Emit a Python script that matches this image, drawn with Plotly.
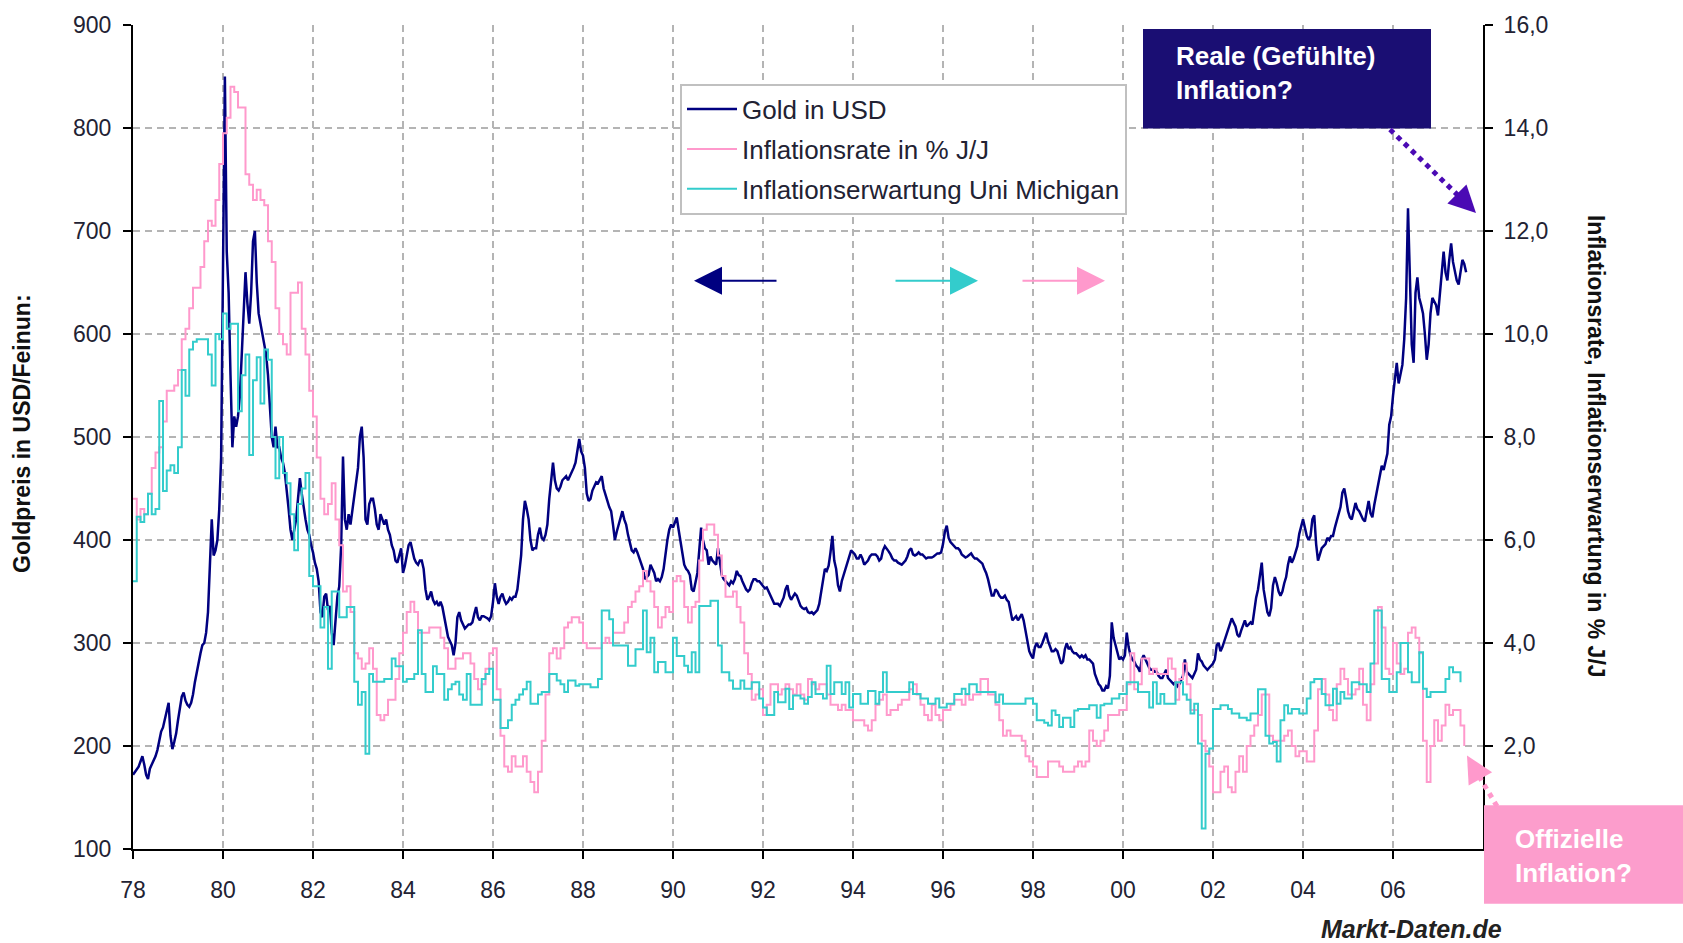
import plotly.graph_objects as go

# ---------------- data ----------------
START_YEAR = 1978

# Gold price in USD/oz, two readings per month (1978-01 .. 2007-08)
gold_usd = [
    # 1978
    172, 175, 178, 180, 185, 190, 182, 172, 168, 178, 182, 186, 190, 196, 206, 214, 218, 226, 232, 242, 210, 197, 204, 212,
    # 1979
    225, 235, 248, 252, 244, 240, 238, 242, 250, 262, 272, 282, 290, 298, 300, 310, 330, 375, 420, 385, 390, 400, 430, 480,
    # 1980
    640, 850, 680, 640, 560, 490, 520, 510, 520, 540, 580, 620, 660, 630, 610, 640, 690, 700, 650, 620, 610, 600, 590, 580,
    # 1981
    560, 530, 500, 490, 510, 490, 490, 480, 475, 465, 450, 430, 410, 400, 410, 420, 440, 460, 445, 430, 420, 410, 405, 395,
    # 1982
    388, 378, 372, 360, 330, 325, 345, 348, 332, 336, 310, 298, 325, 345, 355, 394, 481, 420, 410, 425, 415, 430, 445, 460,
    # 1983
    470, 500, 510, 480, 420, 415, 435, 440, 440, 430, 415, 410, 425, 420, 415, 420, 410, 405, 395, 390, 380, 378, 385, 392,
    # 1984
    368, 375, 385, 395, 398, 390, 382, 378, 376, 380, 380, 372, 352, 342, 345, 350, 342, 338, 340, 336, 340, 335, 325, 318,
    # 1985
    306, 302, 298, 288, 300, 325, 330, 322, 318, 314, 316, 318, 318, 320, 328, 335, 325, 322, 326, 326, 325, 324, 322, 326,
    # 1986
    340, 358, 345, 338, 345, 348, 342, 338, 340, 344, 342, 345, 345, 352, 368, 385, 420, 438, 430, 420, 400, 390, 392, 392,
    # 1987
    405, 412, 402, 400, 405, 415, 440, 460, 475, 458, 450, 448, 452, 458, 460, 462, 458, 462, 465, 470, 475, 488, 498, 486,
    # 1988
    482, 470, 445, 438, 440, 448, 452, 456, 455, 458, 462, 450, 445, 438, 432, 428, 415, 400, 408, 415, 422, 428, 420, 415,
    # 1989
    405, 398, 390, 388, 392, 388, 382, 378, 372, 362, 364, 366, 376, 372, 368, 360, 362, 360, 364, 372, 388, 400, 410, 415,
    # 1990
    412, 418, 422, 410, 398, 385, 376, 372, 370, 366, 352, 350, 358, 368, 390, 412, 400, 392, 390, 376, 384, 380, 378, 376,
    # 1991
    392, 380, 366, 362, 360, 358, 356, 360, 358, 362, 370, 366, 365, 360, 355, 352, 350, 352, 358, 362, 362, 360, 360, 358,
    # 1992
    356, 353, 354, 350, 346, 342, 338, 338, 338, 336, 340, 344, 352, 356, 346, 342, 345, 348, 346, 340, 336, 334, 333, 334,
    # 1993
    330, 329, 330, 328, 330, 332, 338, 348, 362, 372, 370, 375, 388, 404, 380, 372, 356, 350, 360, 366, 370, 378, 382, 390,
    # 1994
    388, 386, 382, 382, 386, 382, 376, 378, 380, 384, 386, 386, 386, 384, 380, 382, 390, 394, 392, 389, 386, 382, 380, 380,
    # 1995
    378, 377, 376, 378, 380, 384, 390, 392, 386, 385, 386, 388, 386, 386, 384, 382, 383, 383, 383, 384, 386, 387, 387, 388,
    # 1996
    396, 408, 414, 402, 398, 396, 394, 392, 392, 390, 386, 384, 383, 384, 386, 387, 384, 382, 382, 380, 379, 377, 372, 368,
    # 1997
    362, 352, 346, 346, 352, 350, 346, 344, 344, 346, 342, 340, 330, 322, 324, 326, 322, 325, 328, 322, 312, 300, 292, 288,
    # 1998
    285, 296, 300, 296, 296, 300, 306, 310, 302, 296, 292, 292, 294, 292, 286, 280, 282, 294, 300, 294, 296, 292, 290, 290,
    # 1999
    288, 286, 288, 286, 288, 284, 284, 282, 280, 270, 264, 260, 258, 254, 254, 258, 256, 268, 320, 305, 298, 290, 284, 286,
    # 2000
    284, 288, 310, 296, 288, 284, 282, 278, 276, 272, 284, 288, 284, 280, 276, 274, 274, 272, 272, 268, 266, 266, 270, 274,
    # 2001
    266, 264, 262, 260, 262, 258, 260, 264, 268, 284, 272, 270, 268, 266, 270, 274, 290, 284, 282, 278, 276, 274, 276, 278,
    # 2002
    280, 284, 298, 300, 292, 296, 302, 306, 312, 318, 324, 320, 316, 308, 306, 312, 318, 322, 316, 318, 320, 318, 332, 344,
    # 2003
    352, 368, 378, 352, 342, 330, 326, 334, 356, 364, 358, 350, 346, 350, 358, 364, 376, 384, 378, 382, 388, 394, 406, 414,
    # 2004
    420, 412, 404, 400, 404, 420, 424, 396, 380, 386, 392, 394, 396, 402, 400, 404, 404, 412, 418, 424, 432, 446, 450, 440,
    # 2005
    428, 422, 420, 428, 436, 430, 428, 424, 420, 418, 428, 438, 426, 422, 434, 444, 452, 466, 472, 468, 478, 484, 512, 520,
    # 2006
    540, 560, 572, 552, 560, 570, 595, 635, 722, 660, 590, 572, 640, 655, 635, 628, 620, 600, 575, 590, 620, 635, 632, 628,
    # 2007
    618, 640, 662, 680, 660, 652, 672, 688, 670, 662, 652, 648, 660, 672, 668, 660,
]

# US consumer price inflation, % year over year, monthly (1978-01 .. 2007-08)
cpi_yoy = [
    6.8, 6.4, 6.6, 6.5, 6.9, 7.4, 7.7, 7.8, 8.3, 8.9, 8.9, 9.0,
    9.3, 9.9, 10.1, 10.5, 10.9, 10.9, 11.3, 11.8, 12.2, 12.1, 12.6, 13.3,
    13.9, 14.2, 14.8, 14.7, 14.4, 14.4, 13.1, 12.9, 12.6, 12.8, 12.6, 12.5,
    11.8, 11.4, 10.5, 10.0, 9.8, 9.6, 10.8, 10.8, 11.0, 10.1, 9.6, 8.9,
    8.4, 7.6, 6.8, 6.5, 6.7, 7.1, 6.4, 5.9, 5.0, 5.1, 4.6, 3.8,
    3.7, 3.5, 3.6, 3.9, 3.5, 2.6, 2.5, 2.6, 2.9, 2.9, 3.3, 3.8,
    4.2, 4.6, 4.8, 4.6, 4.2, 4.2, 4.2, 4.3, 4.3, 4.3, 4.1, 3.9,
    3.5, 3.5, 3.7, 3.7, 3.8, 3.8, 3.6, 3.3, 3.1, 3.2, 3.5, 3.8,
    3.9, 3.1, 2.2, 1.6, 1.5, 1.8, 1.6, 1.6, 1.8, 1.5, 1.3, 1.1,
    1.5, 2.1, 3.0, 3.8, 3.9, 3.7, 3.9, 4.3, 4.4, 4.5, 4.5, 4.4,
    4.0, 3.9, 3.9, 3.9, 3.9, 4.0, 4.1, 4.0, 4.2, 4.2, 4.2, 4.4,
    4.7, 4.8, 5.0, 5.1, 5.4, 5.2, 5.0, 4.7, 4.3, 4.5, 4.7, 4.6,
    5.2, 5.3, 5.2, 4.7, 4.4, 4.7, 4.8, 5.6, 6.2, 6.3, 6.3, 6.1,
    5.7, 5.3, 4.9, 4.9, 5.0, 4.7, 4.4, 3.8, 3.4, 2.9, 3.0, 3.1,
    2.6, 2.8, 3.2, 3.2, 3.0, 3.1, 3.2, 3.1, 3.0, 3.2, 3.0, 2.9,
    3.3, 3.2, 3.1, 3.2, 3.2, 3.0, 2.8, 2.8, 2.7, 2.8, 2.7, 2.7,
    2.5, 2.5, 2.5, 2.4, 2.3, 2.5, 2.8, 2.9, 3.0, 2.6, 2.7, 2.7,
    2.8, 2.9, 2.9, 3.1, 3.2, 3.0, 2.8, 2.6, 2.5, 2.8, 2.6, 2.5,
    2.7, 2.7, 2.8, 2.9, 2.9, 2.8, 3.0, 2.9, 3.0, 3.0, 3.3, 3.3,
    3.0, 3.0, 2.8, 2.5, 2.2, 2.3, 2.2, 2.2, 2.2, 2.1, 1.8, 1.7,
    1.6, 1.4, 1.4, 1.4, 1.7, 1.7, 1.7, 1.6, 1.5, 1.5, 1.5, 1.6,
    1.7, 1.6, 1.7, 2.3, 2.1, 2.0, 2.1, 2.3, 2.6, 2.6, 2.6, 2.7,
    2.7, 3.2, 3.8, 3.1, 3.2, 3.7, 3.7, 3.4, 3.5, 3.4, 3.4, 3.4,
    3.7, 3.5, 2.9, 3.3, 3.6, 3.2, 2.7, 2.7, 2.6, 2.1, 1.9, 1.6,
    1.1, 1.1, 1.5, 1.6, 1.2, 1.1, 1.5, 1.8, 1.5, 2.0, 2.2, 2.4,
    2.6, 3.0, 3.0, 2.2, 2.1, 2.1, 2.1, 2.2, 2.3, 2.0, 1.8, 1.9,
    1.9, 1.7, 1.7, 2.3, 3.1, 3.3, 3.0, 2.7, 2.5, 3.2, 3.5, 3.3,
    3.0, 3.0, 3.1, 3.5, 2.8, 2.5, 3.2, 3.6, 4.7, 4.3, 3.5, 3.4,
    4.0, 3.6, 3.4, 3.5, 4.2, 4.3, 4.1, 3.8, 2.1, 1.3, 2.0, 2.5,
    2.1, 2.4, 2.8, 2.6, 2.7, 2.7, 2.4, 2.0,
]

# University of Michigan inflation expectations, %, monthly (1978-01 .. 2007-07)
mich_exp = [
    5.2, 6.45, 6.35, 6.5, 6.9, 6.5, 6.6, 8.7, 6.95, 7.35, 7.45, 7.3,
    7.8, 9.3, 8.8, 9.7, 9.85, 9.9, 9.9, 9.9, 9.6, 9.0, 10.0, 9.9,
    10.4, 10.1, 10.2, 10.2, 8.5, 9.2, 9.6, 7.65, 9.1, 9.55, 8.65, 9.7,
    9.5, 8.0, 7.2, 8.0, 7.3, 7.1, 6.5, 5.8, 6.7, 7.0, 7.3, 5.3,
    5.1, 5.1, 4.3, 4.7, 3.5, 5.0, 5.0, 4.5, 4.5, 4.7, 4.7, 3.25,
    2.8, 3.05, 1.85, 3.4, 3.25, 3.25, 3.25, 3.3, 3.3, 3.7, 3.55, 3.55,
    3.25, 3.3, 3.3, 3.4, 4.25, 3.4, 3.05, 3.05, 3.55, 3.4, 3.4, 2.9,
    3.1, 3.2, 3.25, 3.0, 2.9, 3.4, 2.8, 2.8, 2.8, 3.3, 3.4, 3.5,
    2.9, 2.9, 2.35, 2.35, 2.5, 2.8, 2.9, 3.0, 3.1, 3.25, 2.82, 2.82,
    3.0, 3.05, 3.05, 3.4, 3.4, 3.27, 3.2, 3.05, 3.27, 3.27, 3.17, 3.2,
    3.2, 3.2, 3.14, 3.14, 3.3, 4.63, 4.63, 4.46, 3.95, 3.95, 3.95, 3.95,
    3.56, 3.56, 3.88, 3.88, 4.63, 3.82, 4.1, 3.43, 3.63, 3.63, 3.43, 3.43,
    4.1, 3.75, 3.75, 3.56, 3.43, 3.82, 3.43, 4.72, 4.72, 4.72, 4.82, 4.82,
    3.95, 3.43, 3.43, 3.27, 3.11, 3.11, 3.27, 3.11, 3.11, 3.24, 3.24, 2.92,
    2.75, 2.6, 2.6, 3.05, 2.85, 2.85, 3.11, 2.72, 2.98, 2.98, 2.92, 2.82,
    2.95, 3.24, 3.01, 3.01, 2.92, 3.56, 3.01, 3.24, 3.24, 3.01, 3.24, 2.75,
    3.01, 3.01, 2.82, 2.82, 3.07, 3.07, 2.82, 3.05, 3.43, 3.05, 3.05, 3.05,
    3.05, 3.05, 3.05, 3.24, 3.01, 3.01, 2.92, 2.92, 2.82, 2.82, 2.92, 2.75,
    2.75, 2.82, 2.82, 3.01, 3.01, 3.11, 3.01, 3.2, 3.2, 3.05, 3.05, 3.05,
    3.05, 3.05, 2.85, 3.0, 2.82, 2.82, 2.82, 2.82, 2.82, 2.82, 2.92, 2.92,
    2.82, 2.5, 2.5, 2.45, 2.4, 2.69, 2.6, 2.37, 2.55, 2.55, 2.37, 2.69,
    2.72, 2.72, 2.72, 2.79, 2.79, 2.55, 2.79, 2.82, 2.82, 2.92, 2.92, 3.01,
    3.01, 3.24, 3.24, 3.24, 3.05, 3.05, 3.05, 2.75, 3.24, 2.82, 3.01, 2.82,
    2.82, 2.82, 3.24, 3.24, 3.0, 2.9, 2.63, 2.82, 2.05, 0.4, 1.85, 1.95,
    2.72, 2.72, 2.79, 2.79, 2.72, 2.63, 2.63, 2.55, 2.55, 2.5, 2.63, 2.63,
    3.1, 3.1, 2.2, 2.05, 2.08, 1.7, 2.5, 2.79, 2.63, 2.72, 2.72, 2.63,
    2.63, 2.92, 3.24, 3.3, 3.3, 3.01, 2.79, 2.79, 3.11, 2.82, 3.05, 2.92,
    2.92, 3.24, 3.24, 3.2, 3.2, 3.05, 3.6, 4.63, 4.63, 3.3, 3.3, 3.05,
    3.05, 3.43, 4.0, 4.0, 3.43, 3.24, 3.24, 3.82, 3.11, 2.95, 3.05, 3.05,
    3.05, 3.05, 3.3, 3.53, 3.43, 3.43, 3.24,
]

x_tick_years = list(range(1978, 2007, 2))
x_tick_labels = [f"{y % 100:02d}" for y in x_tick_years]
left_tick_values = list(range(100, 1000, 100))
right_tick_values = [2, 4, 6, 8, 10, 12, 14, 16]
right_tick_labels = [f"{v},0" for v in right_tick_values]

series_names = ["Gold in USD", "Inflationsrate in % J/J", "Inflationserwartung Uni Michigan"]

# ---------------- derived x positions (time) ----------------
gold_x = [START_YEAR + i / 24 for i in range(len(gold_usd))]
cpi_x = [START_YEAR + i / 12 for i in range(len(cpi_yoy))]
mich_x = [START_YEAR + i / 12 for i in range(len(mich_exp))]

# ---------------- styling ----------------
W, H = 1683, 943
ML, MR, MT, MB = 133, 200, 21, 94
PW, PH = W - ML - MR, H - MT - MB
FONT = "Liberation Sans, Arial, sans-serif"
TXT = "#222233"
NAVY = "#000080"
PINK = "#ff99cc"
TEAL = "#33cccc"
GRID = "#b4b4b4"


def px(fx):
    return (fx - ML) / PW


def py(fy):
    return (H - MB - fy) / PH


fig = go.Figure()
fig.add_trace(go.Scatter(
    x=cpi_x, y=cpi_yoy, yaxis="y2", mode="lines", name=series_names[1],
    line=dict(color=PINK, width=2, shape="hv"), legendrank=2, legendgroup="b",
    hoverinfo="skip"))
fig.add_trace(go.Scatter(
    x=mich_x, y=mich_exp, yaxis="y2", mode="lines", name=series_names[2],
    line=dict(color=TEAL, width=2, shape="hv"), legendrank=3, legendgroup="c",
    hoverinfo="skip"))
fig.add_trace(go.Scatter(
    x=gold_x, y=gold_usd, mode="lines", name=series_names[0],
    line=dict(color=NAVY, width=2.5), legendrank=1, legendgroup="a",
    hoverinfo="skip"))

axis_common = dict(
    showline=True, linecolor="black", linewidth=2,
    ticks="outside", ticklen=8, tickwidth=2, tickcolor="black",
    tickfont=dict(family=FONT, size=23, color=TXT),
    zeroline=False,
)

fig.update_layout(
    width=W, height=H,
    margin=dict(l=ML, r=MR, t=MT, b=MB),
    paper_bgcolor="white", plot_bgcolor="white",
    showlegend=True,
    xaxis=dict(
        range=[1978, 2008], tickvals=x_tick_years, ticktext=x_tick_labels,
        showgrid=True, gridcolor=GRID, gridwidth=2, griddash="7px,5px",
        ticklabelstandoff=11, **axis_common),
    yaxis=dict(
        range=[100, 900], tickvals=left_tick_values,
        showgrid=True, gridcolor=GRID, gridwidth=2, griddash="7px,5px",
        ticklabelstandoff=7, **axis_common),
    yaxis2=dict(
        range=[0, 16], tickvals=right_tick_values, ticktext=right_tick_labels,
        overlaying="y", side="right", showgrid=False,
        ticklabelstandoff=6, **axis_common),
    legend=dict(
        x=px(680), y=py(80), xanchor="left", yanchor="top",
        bgcolor="white", bordercolor="#c0c0c0", borderwidth=2,
        font=dict(family=FONT, size=26, color=TXT),
        traceorder="grouped", tracegroupgap=3, itemwidth=50,
    ),
)

# boxes
fig.add_shape(type="rect", xref="paper", yref="paper",
              x0=px(1143), x1=px(1431), y0=py(125), y1=py(25),
              fillcolor="#1a0e73", line=dict(width=0), layer="above")
fig.add_shape(type="rect", xref="paper", yref="paper",
              x0=px(1484), x1=px(1683), y0=py(904), y1=py(805),
              fillcolor="#fc9dcc", line=dict(width=0), layer="above")

# dotted pointer lines
fig.add_shape(type="line", xref="paper", yref="paper",
              x0=px(1390), y0=py(126), x1=px(1466), y1=py(200),
              line=dict(color="#4b0ab4", width=5, dash="dot"))
fig.add_shape(type="line", xref="paper", yref="paper",
              x0=px(1497), y0=py(806), x1=px(1473), y1=py(766),
              line=dict(color=PINK, width=5, dash="dot"))

annotations = [
    # axis titles
    dict(x=px(22), y=py(432), xref="paper", yref="paper", showarrow=False,
         xanchor="center", yanchor="middle",
         text="<b>Goldpreis in USD/Feinun:</b>", textangle=-90,
         font=dict(family=FONT, size=23, color="#111111")),
    dict(x=px(1596), y=py(445), xref="paper", yref="paper", showarrow=False,
         xanchor="center", yanchor="middle",
         text="<b>Inflationsrate, Inflationserwartung in % J/J</b>", textangle=90,
         font=dict(family=FONT, size=23, color="#111111")),
    # box texts
    dict(x=px(1174), y=py(69), xref="paper", yref="paper", showarrow=False,
         xanchor="left", yanchor="middle", align="left",
         text="<b>Reale (Gefühlte)<br>Inflation?</b>",
         font=dict(family=FONT, size=26, color="white")),
    dict(x=px(1513), y=py(856), xref="paper", yref="paper", showarrow=False,
         xanchor="left", yanchor="middle", align="left",
         text="<b>Offizielle<br>Inflation?</b>",
         font=dict(family=FONT, size=26, color="white")),
    # source
    dict(x=px(1504), y=py(929), xref="paper", yref="paper", showarrow=False,
         xanchor="right", yanchor="middle",
         text="<b><i>Markt-Daten.de</i></b>",
         font=dict(family=FONT, size=25, color="#222222")),
    # axis-direction arrows
    dict(x=px(694), y=py(278), xref="paper", yref="paper", text="", showarrow=True,
         ax=84, ay=0, arrowhead=2, arrowsize=2.8, arrowwidth=2, arrowcolor=NAVY),
    dict(x=px(978), y=py(278), xref="paper", yref="paper", text="", showarrow=True,
         ax=-84, ay=0, arrowhead=2, arrowsize=2.8, arrowwidth=2, arrowcolor=TEAL),
    dict(x=px(1105), y=py(278), xref="paper", yref="paper", text="", showarrow=True,
         ax=-84, ay=0, arrowhead=2, arrowsize=2.8, arrowwidth=2, arrowcolor=PINK),
    # heads of the dotted pointers
    dict(x=px(1476), y=py(210), xref="paper", yref="paper", text="", showarrow=True,
         ax=-13, ay=-13, arrowhead=2, arrowsize=1.8, arrowwidth=3, arrowcolor="#4b0ab4"),
    dict(x=px(1467), y=py(755), xref="paper", yref="paper", text="", showarrow=True,
         ax=8, ay=14, arrowhead=2, arrowsize=1.8, arrowwidth=3, arrowcolor=PINK),
]
fig.update_layout(annotations=annotations)

fig.write_html("out.html", config={"displayModeBar": False},
               post_script="document.body.style.margin='0';")
